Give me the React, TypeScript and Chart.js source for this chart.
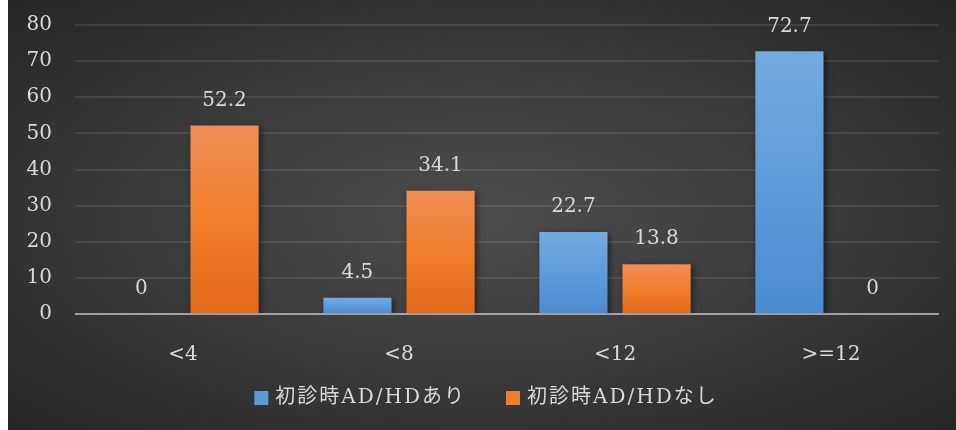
import { useEffect, useRef } from "react";
import { Chart, registerables } from "chart.js";

Chart.register(...registerables);

const categories = ["<4", "<8", "<12", ">=12"];
const seriesNames = ["初診時AD/HDあり", "初診時AD/HDなし"];
const withADHD = [0, 4.5, 22.7, 72.7];
const withoutADHD = [52.2, 34.1, 13.8, 0];
const yMin = 0;
const yMax = 80;
const yStep = 10;

const SERIF = "'DejaVu Serif', 'Noto Sans CJK JP', serif";
const TEXT = "#d9d9d9";

const BLUE_STOPS: [number, string][] = [
  [0, "#74aae0"],
  [0.5, "#5d9cdb"],
  [1, "#4a8bcf"],
];
const ORANGE_STOPS: [number, string][] = [
  [0, "#f18e58"],
  [0.5, "#f07f2c"],
  [1, "#e2681a"],
];

// vertical gradient spanning each bar from its top to the baseline
function barFill(stops: [number, string][], solid: string) {
  return (c: any) => {
    const chart = c.chart;
    if (c.type !== "data" || !chart.chartArea || !chart.scales.y) return solid;
    const y = chart.scales.y;
    const top = y.getPixelForValue(c.raw as number);
    const base = y.getPixelForValue(0);
    if (Math.abs(base - top) < 1) return solid;
    const g = chart.ctx.createLinearGradient(0, top, 0, base);
    stops.forEach(([o, col]) => g.addColorStop(o, col));
    return g;
  };
}

const barShadow = {
  id: "barShadow",
  beforeDatasetsDraw(chart: any) {
    const ctx = chart.ctx;
    ctx.save();
    ctx.shadowColor = "rgba(0,0,0,0.5)";
    ctx.shadowBlur = 6;
    ctx.shadowOffsetX = 2;
    ctx.shadowOffsetY = 2;
  },
  afterDatasetsDraw(chart: any) {
    const ctx = chart.ctx;
    ctx.restore();

    // baseline across the plot, drawn over the bar bottoms
    const { left, right } = chart.chartArea;
    const y0 = chart.scales.y.getPixelForValue(0);
    ctx.save();
    ctx.strokeStyle = "rgba(217,217,217,0.65)";
    ctx.lineWidth = 2;
    ctx.beginPath();
    ctx.moveTo(left, y0);
    ctx.lineTo(right, y0);
    ctx.stroke();

    // value labels above each bar
    ctx.font = `20px ${SERIF}`;
    ctx.fillStyle = TEXT;
    ctx.textAlign = "center";
    ctx.textBaseline = "middle";
    chart.data.datasets.forEach((ds: any, i: number) => {
      const meta = chart.getDatasetMeta(i);
      meta.data.forEach((bar: any, j: number) => {
        ctx.fillText(String(ds.data[j]), bar.x, bar.y - 25);
      });
    });
    ctx.restore();
  },
};

const bottomLegend = {
  id: "bottomLegend",
  afterDraw(chart: any) {
    const ctx = chart.ctx;
    ctx.save();
    ctx.font = `20px ${SERIF}`;
    (ctx as any).letterSpacing = "2px";
    const box = 14;
    const gap = 7;
    const itemGap = 40;
    const items = chart.data.datasets.map((ds: any) => ({
      label: ds.label as string,
      color: ds.legendColor as string,
      w: ctx.measureText(ds.label).width,
    }));
    const total =
      items.reduce((s: number, it: any) => s + box + gap + it.w, 0) +
      itemGap * (items.length - 1);
    let x = chart.width / 2 + 4 - total / 2;
    const cy = chart.height - 32;
    ctx.textBaseline = "middle";
    ctx.textAlign = "left";
    items.forEach((it: any) => {
      ctx.fillStyle = it.color;
      ctx.fillRect(x, cy - box / 2, box, box);
      x += box + gap;
      ctx.fillStyle = TEXT;
      ctx.fillText(it.label, x, cy);
      x += it.w + itemGap;
    });
    ctx.restore();
  },
};

export default function App() {
  const canvasRef = useRef<HTMLCanvasElement>(null);

  useEffect(() => {
    const canvas = canvasRef.current;
    if (!canvas) return;
    const chart = new Chart(canvas, {
      type: "bar",
      data: {
        labels: categories,
        datasets: [
          {
            label: seriesNames[0],
            data: withADHD,
            backgroundColor: barFill(BLUE_STOPS, "#5b9bd5"),
            legendColor: "#5b9bd5",
            categoryPercentage: 0.77,
            barPercentage: 0.82,
          } as any,
          {
            label: seriesNames[1],
            data: withoutADHD,
            backgroundColor: barFill(ORANGE_STOPS, "#ed7d31"),
            legendColor: "#ed7d31",
            categoryPercentage: 0.77,
            barPercentage: 0.82,
          } as any,
        ],
      },
      options: {
        animation: false,
        responsive: false,
        layout: { padding: { top: 25, right: 17, bottom: 0, left: 0 } },
        plugins: {
          legend: { display: false },
          tooltip: { enabled: false },
        },
        scales: {
          x: {
            grid: { display: false },
            border: { display: false },
            ticks: {
              color: TEXT,
              font: { family: SERIF, size: 20 },
              padding: 21,
            },
            afterFit(scale: any) {
              scale.height = 116;
            },
          },
          y: {
            min: yMin,
            max: yMax,
            border: { display: false },
            grid: {
              drawTicks: false,
              lineWidth: 2,
              color: (c: any) =>
                c.tick && c.tick.value === 0 ? "rgba(0,0,0,0)" : "rgba(255,255,255,0.09)",
            },
            ticks: {
              stepSize: yStep,
              color: TEXT,
              font: { family: SERIF, size: 20 },
              padding: 23,
            },
            afterFit(scale: any) {
              scale.width = 67;
              scale.paddingTop = 0;
              scale.paddingBottom = 0;
            },
          },
        },
      },
      plugins: [barShadow, bottomLegend],
    });
    return () => chart.destroy();
  }, []);

  return (
    <div
      style={{
        position: "fixed",
        left: 8,
        top: 0,
        width: 948,
        height: 430,
        background:
          "radial-gradient(ellipse farthest-corner at 50% 50%, #4d4d4d 0%, #3d3d3d 45%, #262626 100%)",
      }}
    >
      <canvas ref={canvasRef} width={948} height={430} style={{ display: "block" }} />
    </div>
  );
}
